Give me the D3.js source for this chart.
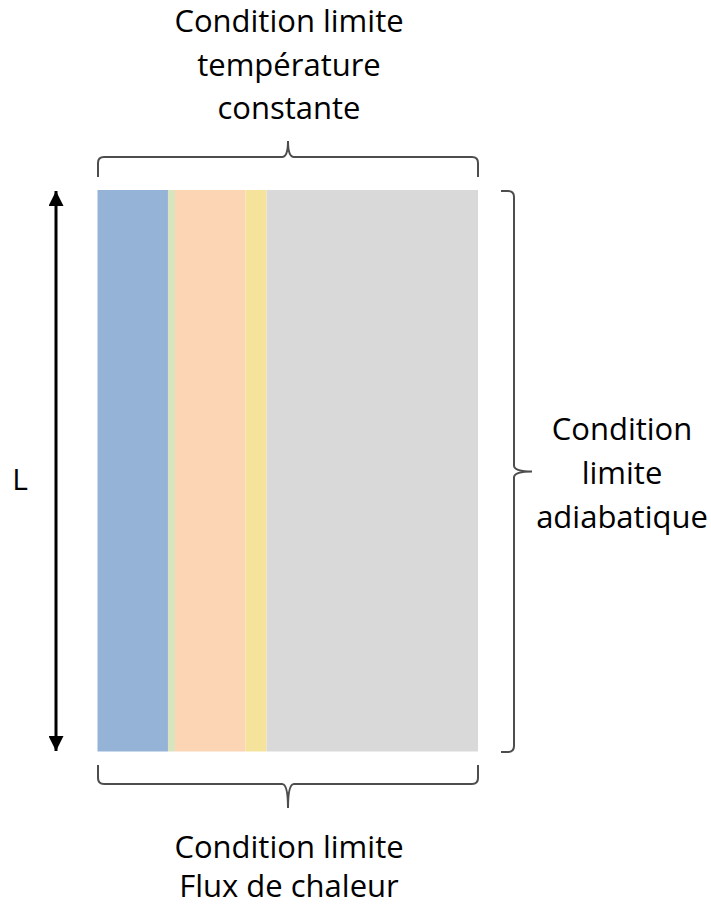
<!DOCTYPE html>
<html>
<head>
<meta charset="utf-8">
<script src="https://cdn.jsdelivr.net/npm/d3@7"></script>
<style>
body { margin: 0; background: #fff; }
text { font-family: "Open Sans", sans-serif; fill: #000; font-variant-ligatures: none; }
</style>
</head>
<body>
<script>
var width = 711;
var height = 906;

// layers of the wall, left to right (relative thickness)
var layerNames = ["couche 1", "couche 2", "couche 3", "couche 4", "couche 5"];
var layerThickness = [10, 1, 10, 3, 30];
var layerColors = ["#95b3d7", "#d7e4bd", "#fcd5b5", "#f6e39b", "#d9d9d9"];

var topLabel = ["Condition limite", "température", "constante"];
var bottomLabel = ["Condition limite", "Flux de chaleur"];
var rightLabel = ["Condition", "limite", "adiabatique"];
var lengthLabel = "L";

var wallLeft = 97.5, wallRight = 478, wallTop = 190, wallBottom = 751.5;

var cum = [0];
layerThickness.forEach(function(d, i){ cum.push(cum[i] + d); });

var xScale = d3.scaleLinear()
.domain([0, d3.sum(layerThickness)])
.range([wallLeft, wallRight]);

var svg = d3.select("body")
.append("svg")
.attr("width", width)
.attr("height", height);

svg.selectAll("rect.layer")
.data(layerThickness)
.enter()
.append("rect")
.attr("class", "layer")
.attr("x", function(d, i){ return xScale(cum[i]); })
.attr("y", wallTop)
.attr("width", function(d, i){ return xScale(cum[i + 1]) - xScale(cum[i]); })
.attr("height", wallBottom - wallTop)
.attr("fill", function(d, i){ return layerColors[i]; });

// curly brace, horizontal
function hBrace(x1, x2, yEnd, yMid, yTip){
  var xm = (x1 + x2) / 2, r = 6;
  var s = yMid > yEnd ? 1 : -1;
  return "M" + x1 + "," + yEnd +
    " L" + x1 + "," + (yMid - s * r) +
    " Q" + x1 + "," + yMid + " " + (x1 + r) + "," + yMid +
    " L" + (xm - r) + "," + yMid +
    " Q" + xm + "," + yMid + " " + xm + "," + yTip +
    " Q" + xm + "," + yMid + " " + (xm + r) + "," + yMid +
    " L" + (x2 - r) + "," + yMid +
    " Q" + x2 + "," + yMid + " " + x2 + "," + (yMid - s * r) +
    " L" + x2 + "," + yEnd;
}
// curly brace, vertical
function vBrace(y1, y2, xEnd, xMid, xTip){
  var ym = (y1 + y2) / 2, r = 6;
  return "M" + xEnd + "," + y1 +
    " L" + (xMid - r) + "," + y1 +
    " Q" + xMid + "," + y1 + " " + xMid + "," + (y1 + r) +
    " L" + xMid + "," + (ym - r) +
    " Q" + xMid + "," + ym + " " + xTip + "," + ym +
    " Q" + xMid + "," + ym + " " + xMid + "," + (ym + r) +
    " L" + xMid + "," + (y2 - r) +
    " Q" + xMid + "," + y2 + " " + (xMid - r) + "," + y2 +
    " L" + xEnd + "," + y2;
}

var braceStyle = function(p){
  p.attr("fill", "none").attr("stroke", "#4d4d4d").attr("stroke-width", 2);
};

svg.append("path").attr("d", hBrace(98, 478, 177, 157, 141)).call(braceStyle);
svg.append("path").attr("d", hBrace(98, 478, 765, 784, 808)).call(braceStyle);
svg.append("path").attr("d", vBrace(191, 752, 501, 514, 532)).call(braceStyle);

// length arrow
svg.append("defs").append("marker")
.attr("id", "arr")
.attr("viewBox", "0 0 10 10")
.attr("refX", 10).attr("refY", 5)
.attr("markerWidth", 5).attr("markerHeight", 5)
.attr("orient", "auto-start-reverse")
.append("path")
.attr("d", "M0,0 L10,5 L0,10 z")
.attr("fill", "#000");

svg.append("line")
.attr("x1", 56).attr("y1", 191)
.attr("x2", 56).attr("y2", 751)
.attr("stroke", "#000")
.attr("stroke-width", 3)
.attr("marker-start", "url(#arr)")
.attr("marker-end", "url(#arr)");

svg.append("text")
.attr("x", 20).attr("y", 478)
.attr("text-anchor", "middle")
.attr("dominant-baseline", "central")
.attr("font-size", "30px")
.text(lengthLabel);

function block(lines, x, y0, step){
  svg.selectAll(null)
  .data(lines)
  .enter()
  .append("text")
  .attr("x", x)
  .attr("y", function(d, i){ return y0 + i * step; })
  .attr("text-anchor", "middle")
  .attr("dominant-baseline", "central")
  .attr("font-size", "31px")
  .text(function(d){ return d; });
}

block(topLabel, 289, 20, 43.5);
block(bottomLabel, 289, 846, 39);
block(rightLabel, 622, 428, 44);
</script>
</body>
</html>
